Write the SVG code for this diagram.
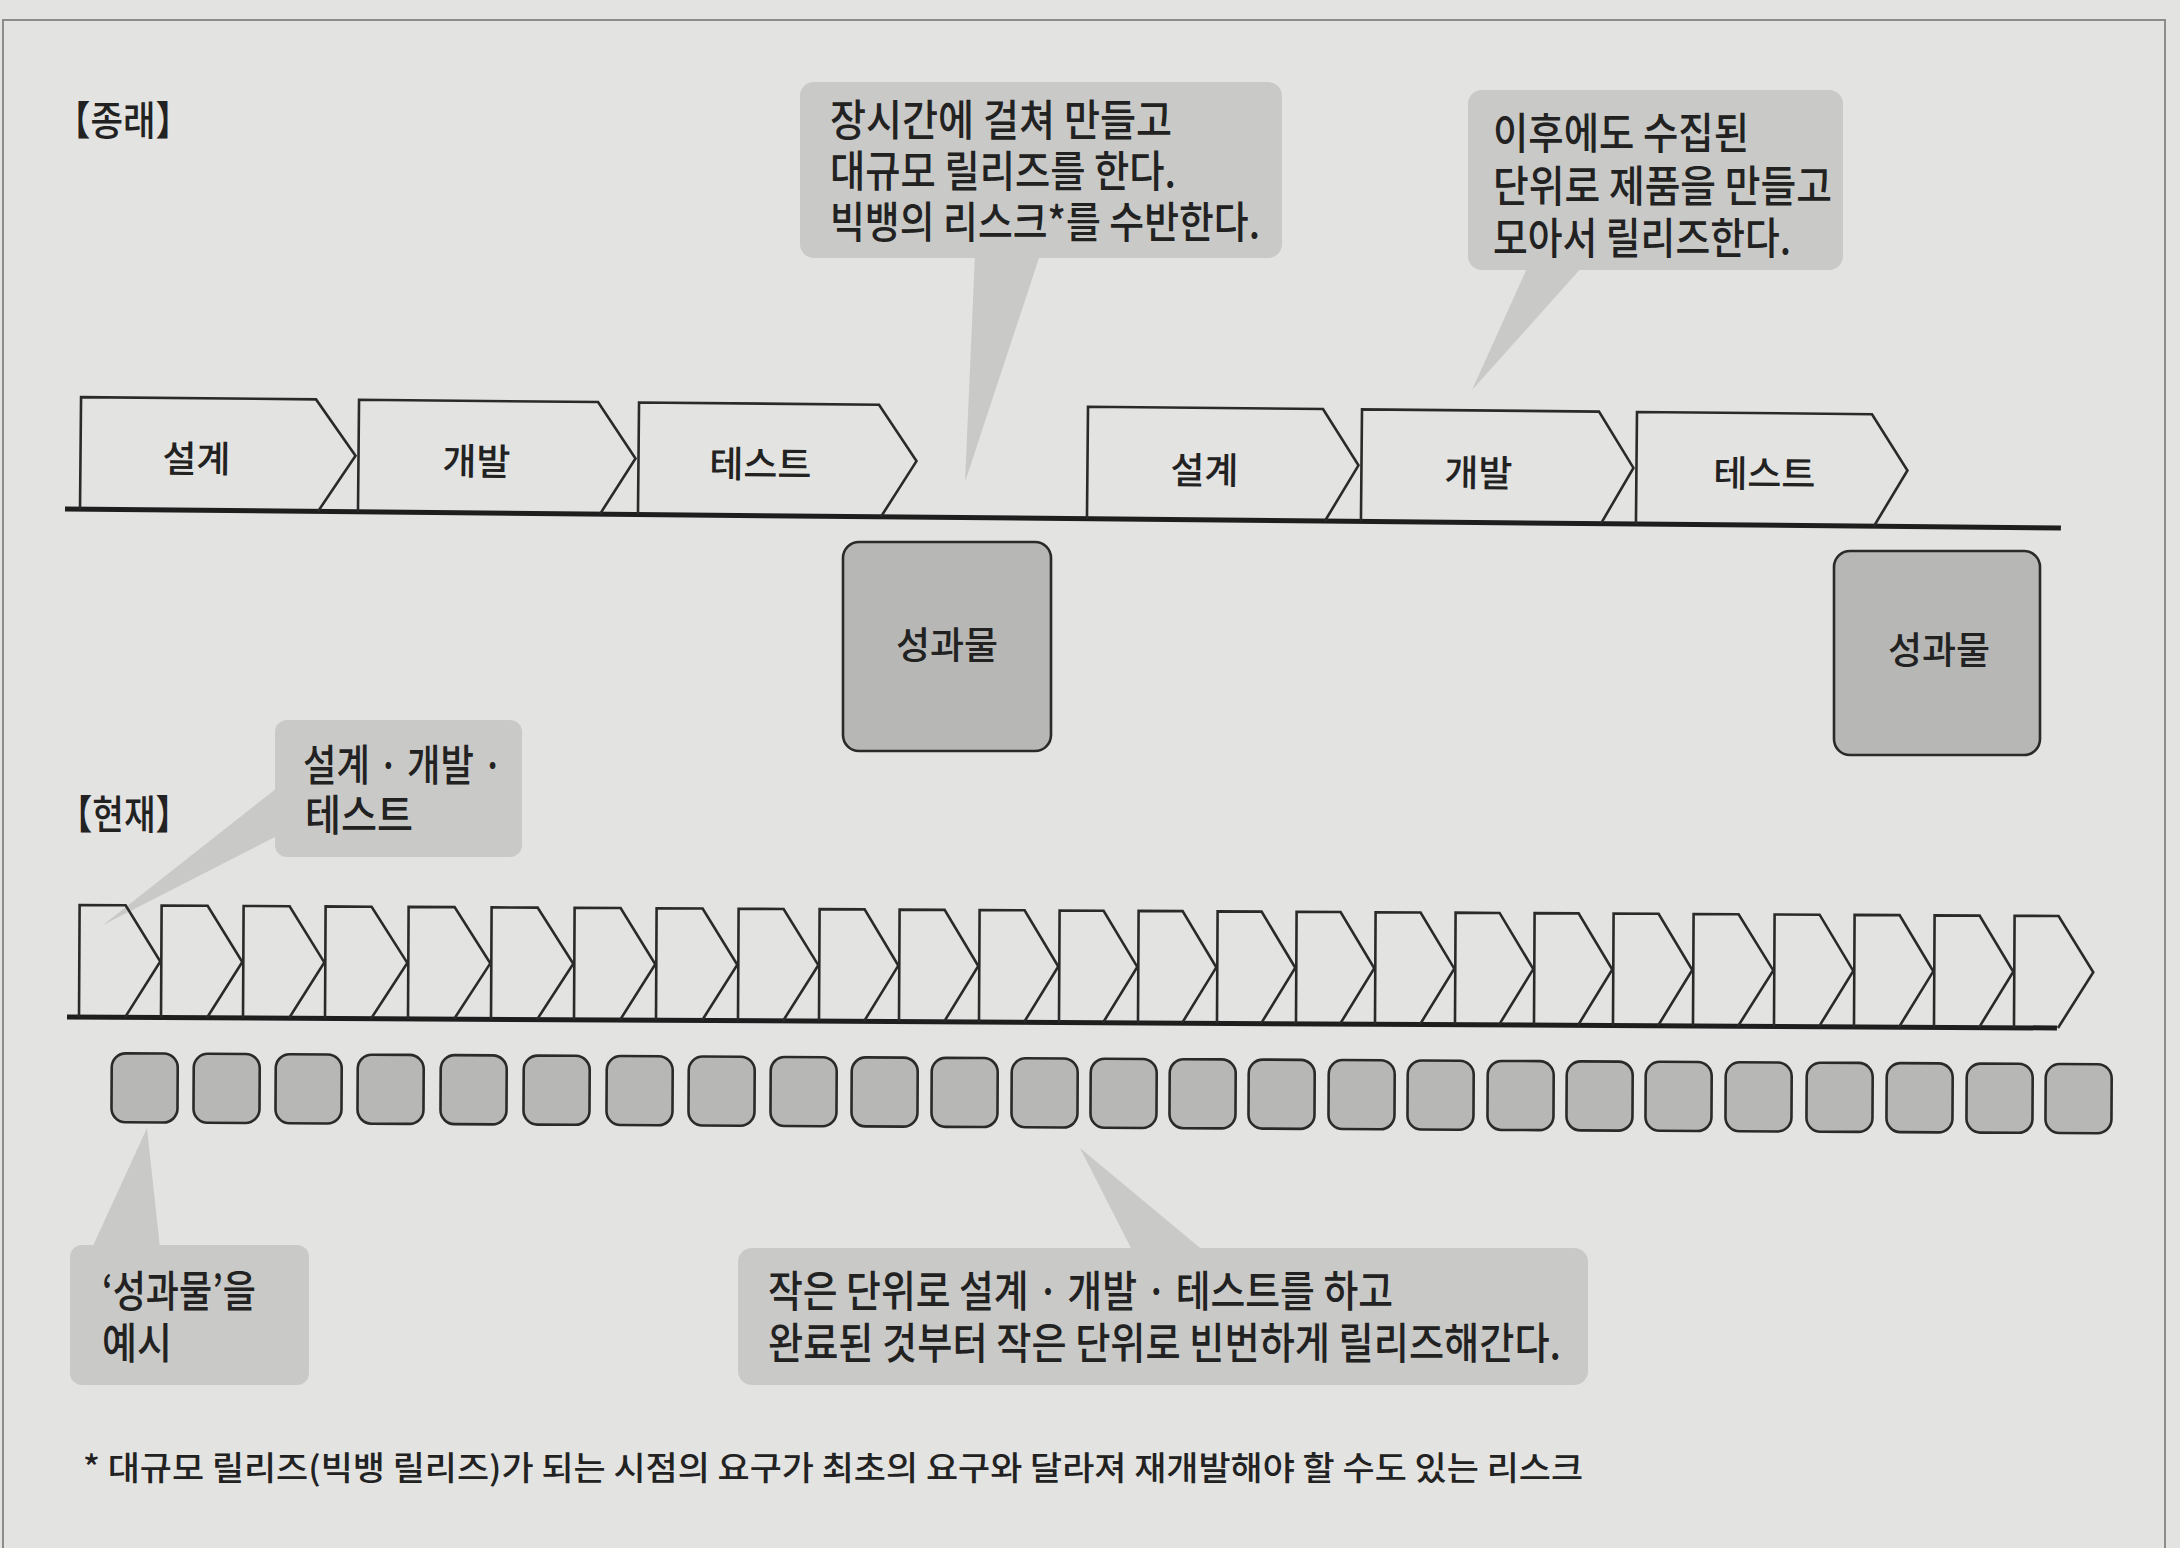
<svg xmlns="http://www.w3.org/2000/svg" width="2180" height="1548" viewBox="0 0 2180 1548">
<style>
.t{font-family:'Noto Sans CJK KR','Noto Sans',sans-serif;fill:#222;font-weight:500;}
.lab{font-size:37px;text-anchor:middle;}
.big{font-size:43px;}
.co{fill:#c9c9c7;}
.chev{fill:none;stroke:#2a2a2a;stroke-width:2.6;stroke-linejoin:miter;}
.rel{fill:#b7b7b5;stroke:#2a2a2a;stroke-width:2.6;}
.base{stroke:#1e1e1e;stroke-width:5;fill:none;}
</style>
<rect x="0" y="0" width="2180" height="1548" fill="#e3e3e1"/>
<path d="M3 1548 V20 H2165 V1548" fill="none" stroke="#8c8c8a" stroke-width="2"/>

<g id="connectors">
  <polygon class="co" points="975,255 1040,255 965,482"/>
  <polygon class="co" points="1528,266 1583,266 1472,390"/>
  <polygon class="co" points="277,788 277,836 103,925"/>
  <polygon class="co" points="92,1248 160,1248 147,1128"/>
  <polygon class="co" points="1133,1252 1205,1252 1080,1148"/>
  <line class="base" x1="65" y1="509" x2="2061" y2="509" transform="rotate(0.545 65 509)"/>
  <line class="base" x1="67" y1="1017" x2="2057" y2="1017" transform="rotate(0.317 67 1017)"/>
</g>

<g id="label-before">
  <text class="t" x="55" y="135" font-size="40" textLength="136" lengthAdjust="spacingAndGlyphs">【종래】</text>
</g>
<g id="label-now">
  <text class="t" x="58" y="829" font-size="40" textLength="132" lengthAdjust="spacingAndGlyphs">【현재】</text>
</g>

<g id="callout-bigbang">
  <rect class="co" x="800" y="82" width="482" height="176" rx="14"/>
  <text class="t big"><tspan x="830" y="136" textLength="342" lengthAdjust="spacingAndGlyphs">장시간에 걸쳐 만들고</tspan><tspan x="830" y="187" textLength="346" lengthAdjust="spacingAndGlyphs">대규모 릴리즈를 한다.</tspan><tspan x="830" y="238" textLength="430" lengthAdjust="spacingAndGlyphs">빅뱅의 리스크*를 수반한다.</tspan></text>
</g>

<g id="callout-collect">
  <rect class="co" x="1468" y="90" width="375" height="180" rx="14"/>
  <text class="t big"><tspan x="1493" y="149" textLength="256" lengthAdjust="spacingAndGlyphs">이후에도 수집된</tspan><tspan x="1493" y="202" textLength="339" lengthAdjust="spacingAndGlyphs">단위로 제품을 만들고</tspan><tspan x="1493" y="254" textLength="298" lengthAdjust="spacingAndGlyphs">모아서 릴리즈한다.</tspan></text>
</g>

<g transform="rotate(0.545 65 509)">
  <g id="old-design1"><path class="chev" d="M80 509 V397 H315 L355 453 L318 509"/><text class="t lab" x="196" y="471">설계</text></g>
  <g id="old-dev1"><path class="chev" d="M358 509 V397 H597 L635 453 L600 509"/><text class="t lab" x="476" y="471">개발</text></g>
  <g id="old-test1"><path class="chev" d="M638 509 V397 H878 L916 453 L881 509"/><text class="t lab" x="760" y="471">테스트</text></g>
  <g id="old-design2"><path class="chev" d="M1087 509 V397 H1322 L1358 453 L1325 509"/><text class="t lab" x="1204" y="473">설계</text></g>
  <g id="old-dev2"><path class="chev" d="M1361 509 V397 H1598 L1633 453 L1601 509"/><text class="t lab" x="1478" y="473">개발</text></g>
  <g id="old-test2"><path class="chev" d="M1636 509 V397 H1871 L1907 453 L1874 509"/><text class="t lab" x="1764" y="471">테스트</text></g>
</g>

<g id="old-release1">
  <rect class="rel" x="843" y="542" width="208" height="209" rx="16"/>
  <text class="t lab" x="947" y="659">성과물</text>
</g>
<g id="old-release2">
  <rect class="rel" x="1834" y="551" width="206" height="204" rx="16"/>
  <text class="t lab" x="1939" y="664">성과물</text>
</g>

<g id="callout-small">
  <rect class="co" x="275" y="720" width="247" height="137" rx="12"/>
  <text class="t big"><tspan x="303" y="781" textLength="200" lengthAdjust="spacingAndGlyphs">설계 · 개발 ·</tspan><tspan x="305" y="831" textLength="108" lengthAdjust="spacingAndGlyphs">테스트</tspan></text>
</g>

<g transform="rotate(0.317 67 1017)">
  <g id="new-steps">
    <path class="chev" d="M79 1017V905H125L160 961L125 1017"/>
    <path class="chev" d="M161 1017V905H207L242 961L207 1017"/>
    <path class="chev" d="M243 1017V905H289L324 961L289 1017"/>
    <path class="chev" d="M325 1017V905H371L407 961L371 1017"/>
    <path class="chev" d="M408 1017V905H454L490 961L454 1017"/>
    <path class="chev" d="M491 1017V905H537L573 961L537 1017"/>
    <path class="chev" d="M574 1017V905H620L655 961L620 1017"/>
    <path class="chev" d="M656 1017V905H702L737 961L702 1017"/>
    <path class="chev" d="M738 1017V905H783L818 961L783 1017"/>
    <path class="chev" d="M819 1017V905H864L898 961L864 1017"/>
    <path class="chev" d="M899 1017V905H944L978 961L944 1017"/>
    <path class="chev" d="M979 1017V905H1024L1058 961L1024 1017"/>
    <path class="chev" d="M1059 1017V905H1103L1137 961L1103 1017"/>
    <path class="chev" d="M1138 1017V905H1182L1216 961L1182 1017"/>
    <path class="chev" d="M1217 1017V905H1261L1295 961L1261 1017"/>
    <path class="chev" d="M1296 1017V905H1340L1374 961L1340 1017"/>
    <path class="chev" d="M1375 1017V905H1420L1454 961L1420 1017"/>
    <path class="chev" d="M1455 1017V905H1499L1533 961L1499 1017"/>
    <path class="chev" d="M1534 1017V905H1578L1612 961L1578 1017"/>
    <path class="chev" d="M1613 1017V905H1658L1692 961L1658 1017"/>
    <path class="chev" d="M1693 1017V905H1738L1773 961L1738 1017"/>
    <path class="chev" d="M1774 1017V905H1819L1853 961L1819 1017"/>
    <path class="chev" d="M1854 1017V905H1899L1933 961L1899 1017"/>
    <path class="chev" d="M1934 1017V905H1979L2013 961L1979 1017"/>
    <path class="chev" d="M2014 1017V905H2058L2093 961L2058 1017"/>
  </g>
  <g id="new-releases">
    <rect class="rel" x="112" y="1053" width="66" height="69" rx="14"/>
    <rect class="rel" x="194" y="1053" width="66" height="69" rx="14"/>
    <rect class="rel" x="276" y="1053" width="66" height="69" rx="14"/>
    <rect class="rel" x="358" y="1053" width="66" height="69" rx="14"/>
    <rect class="rel" x="441" y="1053" width="66" height="69" rx="14"/>
    <rect class="rel" x="524" y="1053" width="66" height="69" rx="14"/>
    <rect class="rel" x="607" y="1053" width="66" height="69" rx="14"/>
    <rect class="rel" x="689" y="1053" width="66" height="69" rx="14"/>
    <rect class="rel" x="771" y="1053" width="66" height="69" rx="14"/>
    <rect class="rel" x="852" y="1053" width="66" height="69" rx="14"/>
    <rect class="rel" x="932" y="1053" width="66" height="69" rx="14"/>
    <rect class="rel" x="1012" y="1053" width="66" height="69" rx="14"/>
    <rect class="rel" x="1091" y="1053" width="66" height="69" rx="14"/>
    <rect class="rel" x="1170" y="1053" width="66" height="69" rx="14"/>
    <rect class="rel" x="1249" y="1053" width="66" height="69" rx="14"/>
    <rect class="rel" x="1329" y="1053" width="66" height="69" rx="14"/>
    <rect class="rel" x="1408" y="1053" width="66" height="69" rx="14"/>
    <rect class="rel" x="1488" y="1053" width="66" height="69" rx="14"/>
    <rect class="rel" x="1567" y="1053" width="66" height="69" rx="14"/>
    <rect class="rel" x="1646" y="1053" width="66" height="69" rx="14"/>
    <rect class="rel" x="1726" y="1053" width="66" height="69" rx="14"/>
    <rect class="rel" x="1807" y="1053" width="66" height="69" rx="14"/>
    <rect class="rel" x="1887" y="1053" width="66" height="69" rx="14"/>
    <rect class="rel" x="1967" y="1053" width="66" height="69" rx="14"/>
    <rect class="rel" x="2046" y="1053" width="66" height="69" rx="14"/>
  </g>
</g>

<g id="callout-example">
  <rect class="co" x="70" y="1245" width="239" height="140" rx="12"/>
  <text class="t big"><tspan x="102" y="1307" textLength="154" lengthAdjust="spacingAndGlyphs">‘성과물’을</tspan><tspan x="102" y="1359" textLength="70" lengthAdjust="spacingAndGlyphs">예시</tspan></text>
</g>

<g id="callout-frequent">
  <rect class="co" x="738" y="1248" width="850" height="137" rx="14"/>
  <text class="t big"><tspan x="768" y="1307" textLength="625" lengthAdjust="spacingAndGlyphs">작은 단위로 설계 · 개발 · 테스트를 하고</tspan><tspan x="768" y="1359" textLength="793" lengthAdjust="spacingAndGlyphs">완료된 것부터 작은 단위로 빈번하게 릴리즈해간다.</tspan></text>
</g>

<g id="footnote">
  <text class="t" x="83" y="1480" font-size="33" textLength="1500" lengthAdjust="spacingAndGlyphs">* 대규모 릴리즈(빅뱅 릴리즈)가 되는 시점의 요구가 최초의 요구와 달라져 재개발해야 할 수도 있는 리스크</text>
</g>
</svg>
